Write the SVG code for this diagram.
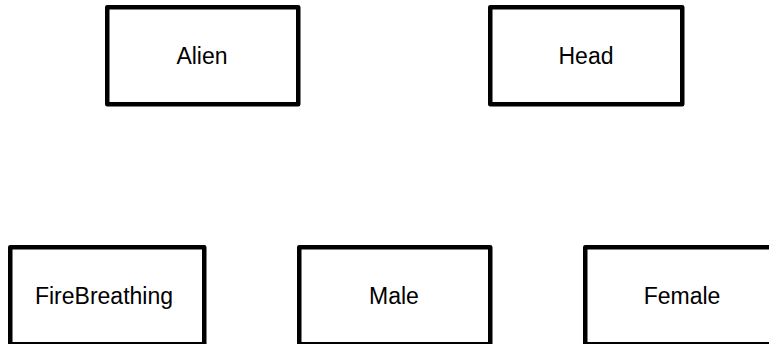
<svg xmlns="http://www.w3.org/2000/svg" width="769" height="344" viewBox="0 0 769 344">
  <style>
    .box { fill: #ffffff; stroke: #000000; stroke-width: 4.5; stroke-linejoin: round; }
    .lbl { font-family: "Liberation Sans", Arial, sans-serif; font-size: 23px; fill: #000000; text-anchor: middle; }
  </style>
  <rect x="0" y="0" width="769" height="344" fill="#ffffff"/>
  <g id="connectors"></g>
  <g id="node-alien">
    <rect class="box" x="107.25" y="7.25" width="191" height="97"/>
    <text class="lbl" x="202" y="64">Alien</text>
  </g>
  <g id="node-head">
    <rect class="box" x="490.25" y="7.25" width="192" height="97"/>
    <text class="lbl" x="586" y="64">Head</text>
  </g>
  <g id="node-firebreathing">
    <rect class="box" x="10.25" y="247.25" width="194" height="97"/>
    <text class="lbl" x="104" y="304">FireBreathing</text>
  </g>
  <g id="node-male">
    <rect class="box" x="299.25" y="247.25" width="191" height="97"/>
    <text class="lbl" x="394" y="304">Male</text>
  </g>
  <g id="node-female">
    <rect class="box" x="585.25" y="247.25" width="195" height="97"/>
    <text class="lbl" x="682" y="304">Female</text>
  </g>
</svg>
